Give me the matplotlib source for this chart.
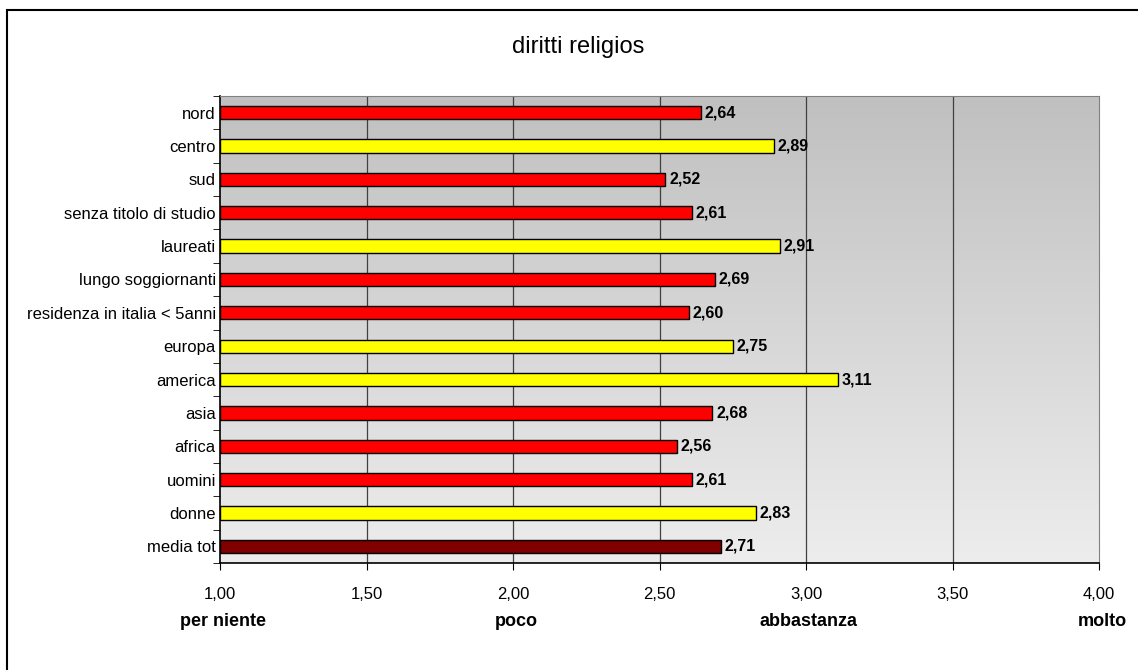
import numpy as np
import matplotlib.pyplot as plt
from matplotlib.patches import Rectangle
from matplotlib.colors import LinearSegmentedColormap

plt.rcParams['font.family'] = ['Liberation Sans', 'DejaVu Sans']

# ─── Data ────────────────────────────────────────────────────────────
categories = ["nord", "centro", "sud", "senza titolo di studio", "laureati",
              "lungo soggiornanti", "residenza in italia < 5anni", "europa",
              "america", "asia", "africa", "uomini", "donne", "media tot"]
values = [2.64, 2.89, 2.52, 2.61, 2.91, 2.69, 2.60, 2.75, 3.11, 2.68,
          2.56, 2.61, 2.83, 2.71]
bar_colors = ["#FF0000", "#FFFF00", "#FF0000", "#FF0000", "#FFFF00", "#FF0000",
              "#FF0000", "#FFFF00", "#FFFF00", "#FF0000", "#FF0000", "#FF0000",
              "#FFFF00", "#800000"]
x_ticks = [1.0, 1.5, 2.0, 2.5, 3.0, 3.5, 4.0]
scale_pos = [1.0, 2.0, 3.0, 4.0]
scale_labels = ["per niente", "poco", "abbastanza", "molto"]
title = "diritti religios"

W, H, DPI = 1138, 670, 100
fig = plt.figure(figsize=(W / DPI, H / DPI), dpi=DPI)
fig.patch.set_facecolor("white")

# outer chart frame (runs off the right / bottom edge like the original)
fig.patches.append(Rectangle((7 / W, -0.01), 1.1, 1 - 10 / H + 0.01,
                             transform=fig.transFigure, fill=False,
                             edgecolor="black", linewidth=1.5))

ax = fig.add_axes([220 / W, 1 - 563 / H, (1099 - 220) / W, (563 - 96) / H])

n = len(categories)
y = np.arange(n)[::-1]

# vertical gradient background: lighter at bottom, darker at top
grad = np.linspace(0, 1, 256).reshape(-1, 1)
cmap = LinearSegmentedColormap.from_list("bg", ["#EDEDED", "#C0C0C0"])
ax.imshow(grad, extent=[1.0, 4.0, -0.5, n - 0.5], aspect="auto", cmap=cmap,
          zorder=0, origin="lower")
ax.set_ylim(-0.5, n - 0.5)
ax.set_xlim(1.0, 4.0)

for xv in x_ticks[1:-1]:
    ax.axvline(xv, color="#404040", linewidth=0.9, zorder=1)

ax.barh(y, np.array(values) - 1.0, left=1.0, height=0.4, color=bar_colors,
        edgecolor="black", linewidth=1.0, zorder=2)

for yi, v in zip(y, values):
    ax.text(v + 0.013, yi, f"{v:.2f}".replace(".", ","), va="center",
            ha="left", fontsize=11.5, fontweight="bold", zorder=3)

ax.set_yticks(y)
ax.set_yticklabels(categories, fontsize=12)
ax.set_yticks(np.arange(-0.5, n, 1.0), minor=True)
ax.tick_params(axis="y", which="major", length=0, pad=3)
ax.tick_params(axis="y", which="minor", length=5, color="black")

ax.set_xticks(x_ticks)
ax.set_xticklabels([f"{t:.2f}".replace(".", ",") for t in x_ticks], fontsize=12)
ax.tick_params(axis="x", length=5, pad=12, color="black")

for sp in ["top", "right"]:
    ax.spines[sp].set_color("#808080")
for sp in ["left", "bottom"]:
    ax.spines[sp].set_color("black")
    ax.spines[sp].set_linewidth(1.2)

for p, lab in zip(scale_pos, scale_labels):
    ax.annotate(lab, xy=(p, 0), xycoords=("data", "axes fraction"),
                xytext=(3, -59), textcoords="offset pixels",
                ha="center", va="center", fontsize=13, fontweight="bold",
                annotation_clip=False)

fig.text(578 / W, 1 - 47 / H, title, ha="center", va="center", fontsize=17)

fig.savefig("out.png", dpi=DPI)
